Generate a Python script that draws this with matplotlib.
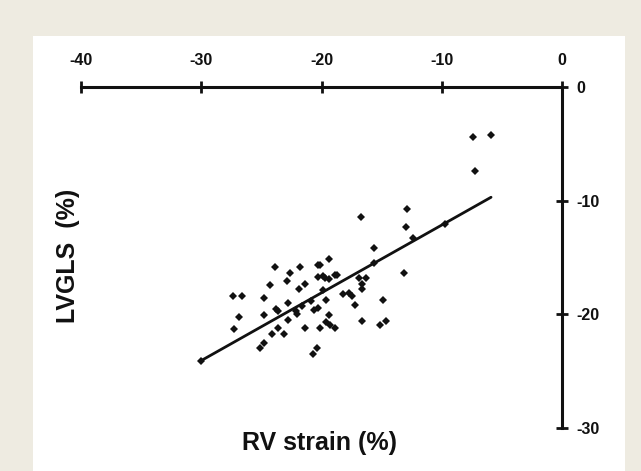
import matplotlib
matplotlib.use("Agg")
import matplotlib.pyplot as plt
from matplotlib.patches import Rectangle

# ── Data ──────────────────────────────────────────────────────────────────────
rv_strain = [-30.0, -27.4, -26.6, -26.9, -27.25, -23.9, -24.75, -24.75, -24.3, -25.1,
             -24.75, -24.1, -23.6, -23.1, -23.8, -23.6, -22.6, -22.9, -22.75, -22.75,
             -21.75, -21.9, -21.4, -22.1, -22.05, -21.6, -21.4, -20.9, -20.3, -20.1,
             -19.4, -20.3, -19.9, -19.7, -19.4, -18.9, -18.7, -19.9, -19.6, -20.6,
             -20.25, -19.4, -19.6, -19.3, -18.9, -20.1, -20.4, -20.7, -18.2, -17.7,
             -17.5, -17.25, -16.9, -16.3, -16.6, -16.6, -16.6, -15.6, -15.6, -14.9,
             -15.1, -14.6, -7.4, -5.9, -7.2, -12.9, -12.95, -12.4, -13.1, -9.7,
             -16.75]
lvgls = [-24.1, -18.4, -18.4, -20.2, -21.25, -15.8, -18.6, -20.05, -17.4, -22.95,
         -22.5, -21.7, -21.2, -21.75, -19.55, -19.7, -16.4, -17.1, -19.0, -20.5,
         -15.8, -17.8, -17.3, -19.75, -19.95, -19.3, -21.2, -18.8, -15.7, -15.65,
         -15.1, -16.7, -16.6, -16.8, -16.9, -16.5, -16.5, -17.9, -18.7, -19.6,
         -19.4, -20.1, -20.7, -20.9, -21.2, -21.2, -22.95, -23.5, -18.2, -18.1,
         -18.4, -19.2, -16.8, -16.8, -17.35, -17.8, -20.55, -14.2, -15.5, -18.7,
         -20.9, -20.6, -4.37, -4.25, -7.4, -10.7, -12.3, -13.3, -16.4, -12.05,
         -11.46]

fit_x = [-30.0, -5.9]
fit_y = [-24.07, -9.7]

x_ticks = [-40, -30, -20, -10, 0]
y_ticks = [0, -10, -20, -30]

BEIGE = "#EEEBE1"
INK = "#111111"
W, H = 641, 471

plt.rcParams["font.family"] = ["Liberation Sans", "DejaVu Sans"]

fig = plt.figure(figsize=(W / 100, H / 100), dpi=100, facecolor=BEIGE)
# white inner panel
fig.patches.append(Rectangle((33 / W, 0), (625 - 33) / W, 1 - 36 / H,
                             transform=fig.transFigure, facecolor="white",
                             edgecolor="none", zorder=-5))

ax = fig.add_axes([81 / W, 1 - 428 / H, (562 - 81) / W, (428 - 87) / H])
ax.set_zorder(2)
ax.set_facecolor("none")

ax.plot(fit_x, fit_y, color=INK, lw=2.0, solid_capstyle="round", zorder=2)
ax.plot(rv_strain, lvgls, "D", color=INK, ms=3.6, mew=0, zorder=3)

ax.set_xlim(-40, 0)
ax.set_ylim(-30, 0)

for sp in ["left", "bottom"]:
    ax.spines[sp].set_visible(False)
for sp in ["top", "right"]:
    ax.spines[sp].set_linewidth(2.2)
    ax.spines[sp].set_color(INK)

ax.xaxis.tick_top()
ax.yaxis.tick_right()
ax.set_xticks(x_ticks)
ax.set_yticks(y_ticks)
ax.set_xticklabels([str(v) for v in x_ticks])
ax.set_yticklabels([str(v) for v in y_ticks])
ax.tick_params(axis="x", direction="inout", length=9, width=2, pad=9,
               labelsize=11.5, colors=INK)
ax.tick_params(axis="y", direction="inout", length=9, width=2, pad=6,
               labelsize=11.5, colors=INK)
for lab in ax.get_xticklabels() + ax.get_yticklabels():
    lab.set_fontweight("bold")

fig.text(320 / W, 1 - 443 / H, "RV strain (%)", ha="center", va="center",
         fontsize=18, fontweight="bold", color=INK, zorder=3)
fig.text(68 / W, 1 - 256 / H, "LVGLS  (%)", ha="center", va="center",
         rotation=90, fontsize=18, fontweight="bold", color=INK, zorder=3)

fig.savefig("out.png", dpi=100, facecolor=BEIGE)
